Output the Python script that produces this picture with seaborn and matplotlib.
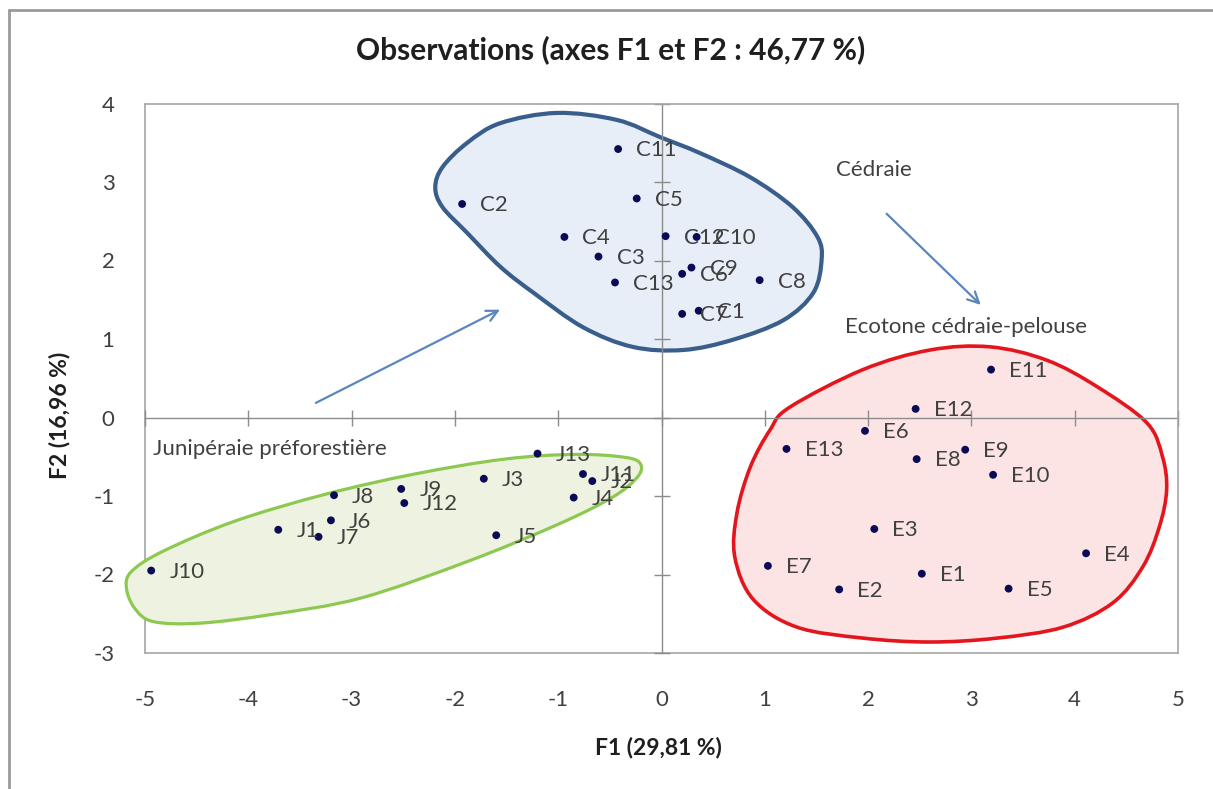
import numpy as np
import pandas as pd
import matplotlib
matplotlib.use("Agg")
import matplotlib.pyplot as plt
from matplotlib.path import Path
from matplotlib.patches import PathPatch
from matplotlib.lines import Line2D
import seaborn as sns

# ---------------- data ----------------
c_names = ["C1", "C2", "C3", "C4", "C5", "C6", "C7", "C8", "C9", "C10", "C11", "C12", "C13"]
c_f1 = [0.36, -1.93, -0.61, -0.94, -0.24, 0.20, 0.20, 0.95, 0.29, 0.34, -0.42, 0.04, -0.45]
c_f2 = [1.36, 2.72, 2.05, 2.30, 2.79, 1.83, 1.32, 1.75, 1.91, 2.30, 3.42, 2.31, 1.72]

e_names = ["E1", "E2", "E3", "E4", "E5", "E6", "E7", "E8", "E9", "E10", "E11", "E12", "E13"]
e_f1 = [2.52, 1.72, 2.06, 4.11, 3.36, 1.97, 1.03, 2.47, 2.94, 3.21, 3.19, 2.46, 1.21]
e_f2 = [-1.99, -2.19, -1.42, -1.73, -2.18, -0.17, -1.89, -0.53, -0.41, -0.73, 0.61, 0.11, -0.40]

j_names = ["J1", "J2", "J3", "J4", "J5", "J6", "J7", "J8", "J9", "J10", "J11", "J12", "J13"]
j_f1 = [-3.71, -0.67, -1.72, -0.85, -1.60, -3.20, -3.32, -3.17, -2.52, -4.94, -0.76, -2.49, -1.20]
j_f2 = [-1.43, -0.81, -0.78, -1.02, -1.50, -1.31, -1.52, -0.99, -0.91, -1.95, -0.72, -1.09, -0.46]

x_ticks = [-5, -4, -3, -2, -1, 0, 1, 2, 3, 4, 5]
y_ticks = [-3, -2, -1, 0, 1, 2, 3, 4]

title = "Observations (axes F1 et F2 : 46,77 %)"
xlabel = "F1 (29,81 %)"
ylabel = "F2 (16,96 %)"
group_labels = ["Cédraie", "Ecotone cédraie-pelouse", "Junipéraie préforestière"]

# ------------- annotation geometry (hand-drawn enclosures & arrows) -------------
blue_outline = [(-0.01, 3.57), (0.37, 3.37), (0.86, 3.06), (1.27, 2.68), (1.51, 2.30),
                (1.55, 2.01), (1.47, 1.59), (1.18, 1.24), (0.69, 0.99), (0.21, 0.86),
                (-0.28, 0.90), (-0.76, 1.15), (-1.24, 1.59), (-1.56, 1.92), (-1.88, 2.35),
                (-2.12, 2.68), (-2.19, 2.93), (-2.12, 3.19), (-1.88, 3.50), (-1.56, 3.75),
                (-1.01, 3.88), (-0.43, 3.79)]
red_outline = [(1.24, 0.13), (1.95, 0.61), (2.60, 0.86), (3.18, 0.90), (3.73, 0.73),
               (4.22, 0.39), (4.70, -0.07), (4.85, -0.50), (4.89, -0.92), (4.82, -1.39),
               (4.66, -1.90), (4.37, -2.36), (3.89, -2.67), (3.25, -2.81), (2.60, -2.86),
               (1.95, -2.81), (1.31, -2.67), (0.89, -2.32), (0.71, -1.78), (0.73, -1.22),
               (0.86, -0.63), (1.05, -0.16)]
green_outline = [(-5.18, -2.17), (-5.10, -2.43), (-4.92, -2.60), (-4.47, -2.62), (-3.78, -2.51),
                 (-2.91, -2.30), (-1.87, -1.83), (-1.00, -1.36), (-0.48, -1.02), (-0.24, -0.77),
                 (-0.20, -0.60), (-0.34, -0.51), (-0.83, -0.47), (-1.52, -0.53), (-2.39, -0.72),
                 (-3.26, -0.98), (-4.13, -1.32), (-4.82, -1.70), (-5.13, -1.96)]

# ---------------- styling ----------------
sns.set_style("white")
plt.rcParams["font.family"] = ["Lato", "DejaVu Sans"]
plt.rcParams["axes.unicode_minus"] = False

W, H = 1213, 789
fig = plt.figure(figsize=(W / 100, H / 100), dpi=100)
fig.patch.set_facecolor("white")

left_px, right_px, top_px, bottom_px = 145, 1178, 103.5, 653
ax = fig.add_axes([left_px / W, 1 - bottom_px / H, (right_px - left_px) / W, (bottom_px - top_px) / H])
ax.set_xlim(-5, 5)
ax.set_ylim(-3, 4)
ax.set_facecolor("none")

frame_col = "#A6A6A6"
zero_col = "#8C8C8C"
text_col = "#404040"

# zero axes (spines moved to 0) with cross tick marks
ax.spines["left"].set_position(("data", 0))
ax.spines["bottom"].set_position(("data", 0))
for s in ["left", "bottom"]:
    ax.spines[s].set_color(zero_col)
    ax.spines[s].set_linewidth(1.0)
    ax.spines[s].set_zorder(1)
for s in ["top", "right"]:
    ax.spines[s].set_color(frame_col)
    ax.spines[s].set_linewidth(1.2)
ax.set_xticks(x_ticks)
ax.set_yticks(y_ticks)
ax.tick_params(axis="both", which="both", direction="inout", length=11, width=1.0,
               color=zero_col, labelleft=False, labelbottom=False,
               bottom=True, left=True, top=False, right=False)

# tick labels on the outer frame (Excel "low" position)
secx = ax.secondary_xaxis("bottom")
secx.set_xticks(x_ticks)
secx.set_xticklabels([str(t) for t in x_ticks])
secx.tick_params(length=0, pad=27, labelsize=16, labelcolor=text_col)
secx.spines["bottom"].set_color(frame_col)
secx.spines["bottom"].set_linewidth(1.2)

secy = ax.secondary_yaxis("left")
secy.set_yticks(y_ticks)
secy.set_yticklabels([str(t) for t in y_ticks])
secy.tick_params(length=0, pad=22, labelsize=16, labelcolor=text_col)
secy.spines["left"].set_color(frame_col)
secy.spines["left"].set_linewidth(1.2)


def closed_smooth_path(pts):
    p = np.asarray(pts, dtype=float)
    n = len(p)
    verts = [p[0]]
    codes = [Path.MOVETO]
    for i in range(n):
        p0, p1, p2, p3 = p[(i - 1) % n], p[i], p[(i + 1) % n], p[(i + 2) % n]
        b1 = p1 + (p2 - p0) / 6.0
        b2 = p2 - (p3 - p1) / 6.0
        verts += [b1, b2, p2]
        codes += [Path.CURVE4] * 3
    verts.append(p[0])
    codes.append(Path.CLOSEPOLY)
    return Path(verts, codes)


enclosures = [
    (blue_outline, "#E7EEF7", "#3A5E8B", 3.0),
    (red_outline, "#FDE4E4", "#E3161E", 2.6),
    (green_outline, "#EDF3E0", "#8DC851", 2.3),
]
for pts, fc, ec, lw in enclosures:
    patch = PathPatch(closed_smooth_path(pts), facecolor=fc, edgecolor=ec, linewidth=lw,
                      zorder=0.5, clip_on=False)
    ax.add_patch(patch)

# ---------------- points ----------------
df = pd.DataFrame({
    "name": c_names + e_names + j_names,
    "F1": c_f1 + e_f1 + j_f1,
    "F2": c_f2 + e_f2 + j_f2,
})
sns.scatterplot(data=df, x="F1", y="F2", color="#0B0B55", s=32, edgecolor="none",
                ax=ax, zorder=5, legend=False)
ax.set_xlabel("")
ax.set_ylabel("")

for _, row in df.iterrows():
    ax.annotate(row["name"], (row["F1"], row["F2"]), xytext=(13, -1), textcoords="offset points",
                ha="left", va="center", fontsize=16, color=text_col, zorder=6)

# ---------------- group annotations ----------------
ax.text(1.69, 3.15, group_labels[0], ha="left", va="center", fontsize=16, color=text_col)
ax.text(1.78, 1.15, group_labels[1], ha="left", va="center", fontsize=16, color=text_col)
ax.text(-4.92, -0.40, group_labels[2], ha="left", va="center", fontsize=16, color=text_col)

arrow_col = "#5A86BE"
ax.annotate("", xy=(-1.54, 1.39), xytext=(-3.37, 0.17),
            arrowprops=dict(arrowstyle="->,head_length=0.8,head_width=0.4", color=arrow_col, lw=1.6))
ax.annotate("", xy=(3.11, 1.41), xytext=(2.16, 2.62),
            arrowprops=dict(arrowstyle="->,head_length=0.8,head_width=0.4", color=arrow_col, lw=1.6))

# ---------------- titles ----------------
fig.text(611 / W, 1 - 50 / H, title, ha="center", va="center", fontsize=21.5,
         fontweight="bold", color="#1F1F1F")
fig.text(658 / W, 1 - 748 / H, xlabel, ha="center", va="center", fontsize=16.5,
         fontweight="bold", color="#1F1F1F")
fig.text(60 / W, 1 - 415 / H, ylabel, ha="center", va="center", fontsize=16.5,
         fontweight="bold", color="#1F1F1F", rotation=90)

# outer chart border (left and top visible)
fig.add_artist(Line2D([9 / W, 9 / W], [0, 1 - 10 / H], transform=fig.transFigure,
                      color="#9A9A9A", lw=2))
fig.add_artist(Line2D([9 / W, 1], [1 - 10 / H, 1 - 10 / H], transform=fig.transFigure,
                      color="#9A9A9A", lw=2))

fig.savefig("out.png", dpi=100)
